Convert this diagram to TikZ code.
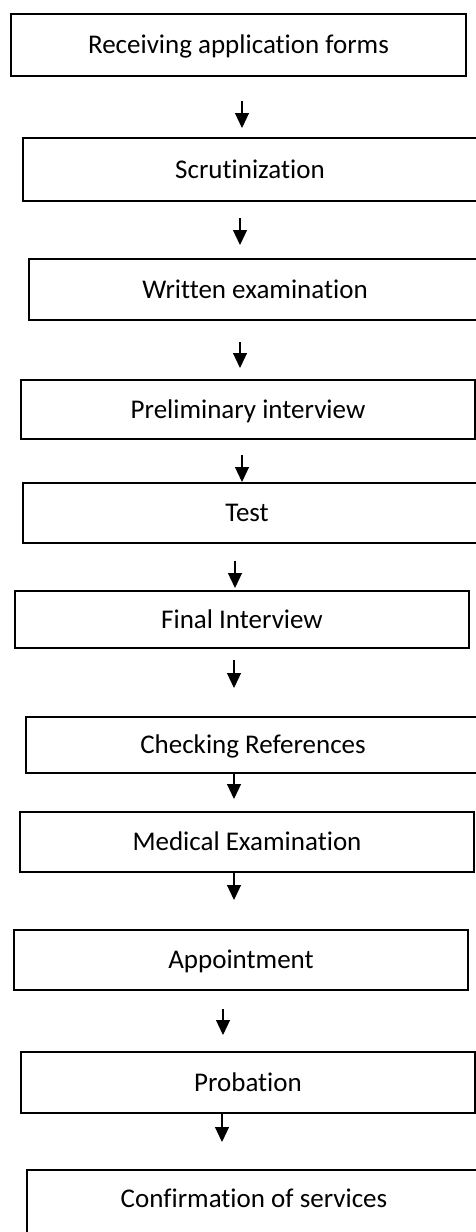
\documentclass[tikz,border=0pt]{standalone}
\usepackage{fontspec}
\setmainfont{Carlito}[Ligatures=NoCommon]
\usetikzlibrary{arrows.meta}
\tikzset{
  box/.style={draw=black, line width=1.3pt, inner sep=0pt, font=\fontsize{27}{30}\selectfont,
              text height=17.4pt, text depth=0pt, anchor=center},
  lbl/.style={inner sep=0pt, font=\fontsize{27}{30}\selectfont, text height=17.4pt, text depth=0pt, anchor=center},
  flow/.style={line width=1.2pt, -{Triangle[width=14pt,length=15pt]}}
}
\begin{document}
\begin{tikzpicture}[x=1pt,y=-1pt]
\useasboundingbox (0,0) rectangle (476,1232);
\clip (0,0) rectangle (476,1232);
% boxes: centre (cx,cy), width, height
\node[box, minimum width=455pt, minimum height=62pt] (b1) at (238.5,45) {Receiving application forms};
\node[box, minimum width=454pt, minimum height=63pt] (b2) at (250,169.5) {Scrutinization};
\node[box, minimum width=452pt, minimum height=61pt] (b3) at (255,289.5) {Written examination};
\node[box, minimum width=454pt, minimum height=59pt] (b4) at (248,409.5) {Preliminary interview};
\node[box, minimum width=458pt, minimum height=60pt] (b5) at (252,513) {};
\node[lbl] (t5) at (247,513) {Test};
\node[box, minimum width=454pt, minimum height=57pt] (b6) at (242,619.5) {Final Interview};
\node[box, minimum width=454pt, minimum height=56pt] (b7) at (253,745) {Checking References};
\node[box, minimum width=454pt, minimum height=60pt] (b8) at (247,842) {Medical Examination};
\node[box, minimum width=454pt, minimum height=60pt] (b9) at (241,960) {Appointment};
\node[box, minimum width=454pt, minimum height=61pt] (b10) at (248,1082.5) {Probation};
\node[box, minimum width=454pt, minimum height=90pt] (b11) at (254,1215) {};
\node[lbl] (t11) at (254,1199) {Confirmation of services};
% arrow end points
\coordinate (a1s) at (242,101);  \coordinate (a1e) at (242,128);
\coordinate (a2s) at (240,218);  \coordinate (a2e) at (240,245);
\coordinate (a3s) at (240,342);  \coordinate (a3e) at (240,368);
\coordinate (a4s) at (242,455);  \coordinate (a4e) at (242,482);
\coordinate (a5s) at (235,561);  \coordinate (a5e) at (235,588);
\coordinate (a6s) at (234,660);  \coordinate (a6e) at (234,688);
\coordinate (a7s) at (234,773);  \coordinate (a7e) at (234,799);
\coordinate (a8s) at (234,872);  \coordinate (a8e) at (234,900);
\coordinate (a9s) at (223,1009); \coordinate (a9e) at (223,1035);
\coordinate (a10s) at (222,1113); \coordinate (a10e) at (222,1142);
\foreach \i in {1,...,10} { \draw[flow] (a\i s) -- (a\i e); }
\end{tikzpicture}
\end{document}
